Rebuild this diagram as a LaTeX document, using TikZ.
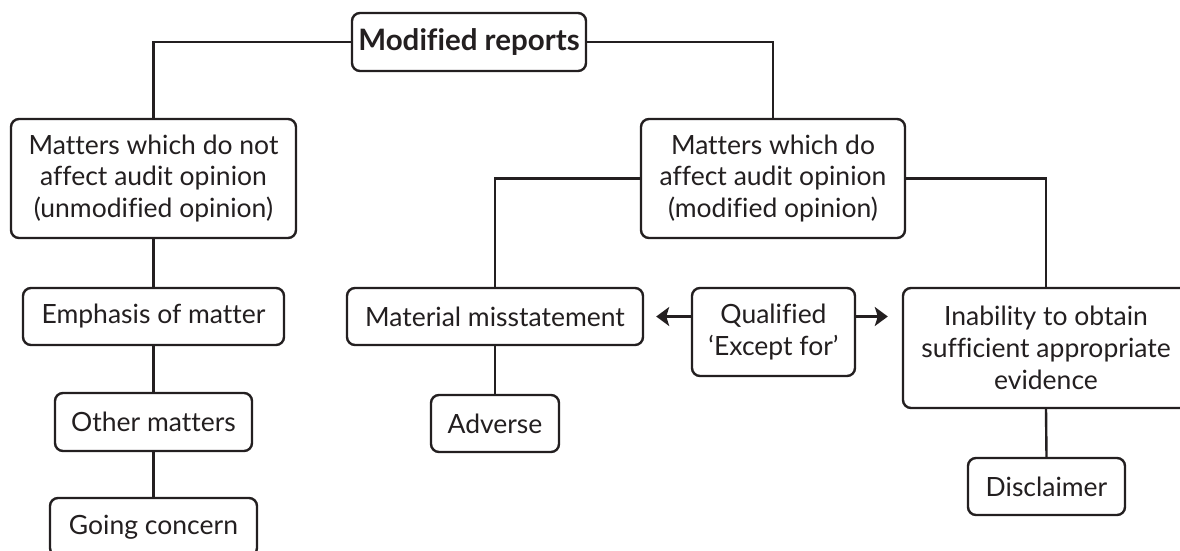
\documentclass[tikz,border=0pt]{standalone}
\usepackage{fontspec}
\setmainfont{Lato}[Ligatures={NoCommon}]
\usetikzlibrary{arrows.meta,calc}
\definecolor{ink}{HTML}{231F20}
\begin{document}
\begin{tikzpicture}[x=1pt,y=-1pt,
  box/.style={draw=ink,line width=2.4pt,rounded corners=8pt,fill=white,
    text=ink,align=center,inner sep=0pt,
    font=\fontsize{26.5}{31.7}\selectfont},
  link/.style={draw=ink,line width=2.4pt},
  arr/.style={link,-{Stealth[length=13pt,width=19pt,inset=3pt]}}]
\useasboundingbox (0,0) rectangle (1180,550);
\clip (0,0) rectangle (1180,550);

% root
\node[box,minimum width=234pt,minimum height=58pt,font=\fontsize{29.5}{31.7}\selectfont\bfseries]
  (top) at (469,42) {Modified reports};

% first level
\node[box,minimum width=285pt,minimum height=119pt] (left) at (153.5,178.5)
  {Matters which do not\\affect audit opinion\\(unmodified opinion)};
\node[box,minimum width=264pt,minimum height=119pt] (right) at (773,178.5)
  {Matters which do\\affect audit opinion\\(modified opinion)};

% unmodified branch
\node[box,minimum width=261pt,minimum height=57pt] (emph) at (153.5,316.5) {Emphasis of matter};
\node[box,minimum width=197pt,minimum height=58pt] (other) at (153.5,422) {Other matters};
\node[box,minimum width=207pt,minimum height=58pt] (going) at (153.5,527) {Going concern};

% modified branch
\node[box,minimum width=296pt,minimum height=57pt] (mat) at (495,316.5) {Material misstatement};
\node[box,minimum width=128pt,minimum height=57pt] (adv) at (495,423.5) {Adverse};
\node[box,minimum width=163pt,minimum height=88pt] (qual) at (773.5,332) {Qualified\\‘Except for’};
\node[box,minimum width=286pt,minimum height=120pt] (inab) at (1046,348)
  {Inability to obtain\\sufficient appropriate\\evidence};
\node[box,minimum width=157pt,minimum height=57pt] (disc) at (1046.5,486.5) {Disclaimer};

% connectors
\draw[link] (top.west) -| (left.north);
\draw[link] (top.east) -| (right.north);
\draw[link] (right.west) -| (mat.north);
\draw[link] (right.east) -| (inab.north);
\draw[link] (left.south) -- (emph.north);
\draw[link] (emph.south) -- (other.north);
\draw[link] (other.south) -- (going.north);
\draw[link] (mat.south) -- (adv.north);
\draw[link] (inab.south) -- (disc.north);

\coordinate (la) at ($(mat.east)+(12,0)$);
\coordinate (ra) at ($(inab.west |- mat.east)+(-14,0)$);
\draw[arr] (qual.west |- mat.east) -- (la);
\draw[arr] (qual.east |- mat.east) -- (ra);
\end{tikzpicture}
\end{document}
